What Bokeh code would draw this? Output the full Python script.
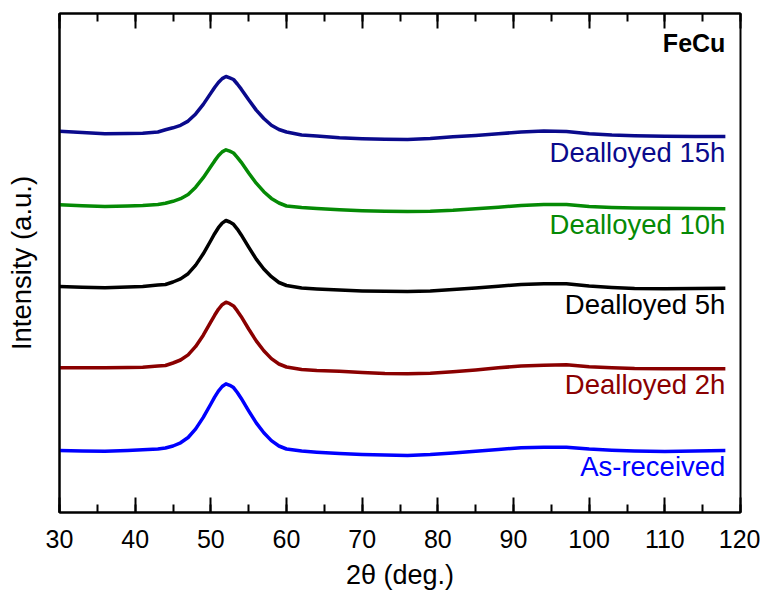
from bokeh.plotting import figure
from bokeh.models import Range1d, LinearAxis, SingleIntervalTicker, FixedTicker, Label, CustomJSTickFormatter
from bokeh.core.properties import value
from bokeh.embed import file_html
from bokeh.resources import INLINE

# 2-theta positions (deg.)
two_theta = [30, 33, 36, 39, 41, 43, 44, 45, 46, 47, 48, 49, 50, 50.5, 51, 51.5, 52, 52.5,
             53, 53.5, 54, 55, 56, 57, 58, 59, 60, 62, 64, 67, 70, 73, 76, 79, 82, 85,
             88, 91, 94, 97, 100, 103, 106, 110, 114, 118]

# Intensities (a.u., already stacked with vertical offsets)
dealloyed_15h = [381.3, 380, 378.7, 379, 379.3, 380.5, 382.7, 384.7, 387.2, 391.4, 398.6, 408.1,
                 419.4, 425.0, 430.0, 433.9, 436.0, 434.6, 433.0, 428.5, 423.6, 412.7, 402.4,
                 394.0, 387.2, 383.0, 380.5, 377.5, 376.5, 374.7, 373.8, 373.3, 373.0, 374.0,
                 375.8, 377.0, 378.7, 380.5, 381.5, 381.0, 378.8, 377.5, 376.8, 376.2, 376.0, 376.0]
dealloyed_10h = [307.7, 306.8, 306, 306.5, 307, 308, 309.2, 311.2, 313.8, 318.0, 325.3, 334.8,
                 346.0, 351.6, 356.7, 360.6, 362.7, 361.3, 359.5, 355.2, 350.4, 339.5, 329.3,
                 320.8, 314.1, 309.5, 306.5, 305.0, 304.0, 302.7, 301.7, 301.2, 301.0, 301.3,
                 302.2, 303.8, 305.3, 307.0, 308.0, 308.0, 306.0, 305.0, 304.5, 304.2, 304.0, 303.7]
dealloyed_5h = [226, 225.3, 224.7, 225.5, 226, 227.5, 228.0, 230.5, 233.6, 238.8, 247.4, 258.7,
                272.0, 278.8, 284.8, 289.4, 292.0, 290.5, 288.2, 283.4, 277.8, 265.3, 253.4,
                243.5, 235.8, 230.0, 227.0, 224.5, 223.5, 222.5, 221.6, 221.2, 221.0, 221.5,
                223.0, 224.5, 226.3, 228.0, 228.7, 228.7, 226.5, 225.0, 224.0, 223.8, 224.0, 224.3]
dealloyed_2h = [144.7, 144.7, 144.7, 145, 145.3, 146.5, 147.0, 149.5, 152.5, 157.6, 166.1, 177.3,
                190.6, 197.2, 203.2, 207.8, 210.3, 208.8, 206.6, 201.6, 196.1, 183.5, 171.6,
                161.7, 153.9, 148.5, 145.5, 143.0, 142.0, 141.3, 140.0, 139.0, 138.7, 139.2,
                140.8, 142.5, 144.7, 146.5, 147.3, 147.7, 145.8, 144.8, 144.0, 143.7, 143.7, 143.7]
as_received = [62, 61.6, 61.3, 62, 62.7, 63.5, 64.5, 66.5, 69.7, 75.0, 83.6, 95.1,
               108.5, 115.3, 121.4, 126.0, 128.7, 127.2, 124.9, 120.0, 114.3, 101.7, 89.6,
               79.7, 71.9, 66.5, 63.5, 61.5, 60.3, 59.0, 58.0, 57.5, 57.0, 58.0,
               59.6, 61.3, 63.0, 64.8, 65.3, 65.3, 63.5, 62.3, 61.5, 61.0, 61.5, 62.0]

series_names = ["Dealloyed 15h", "Dealloyed 10h", "Dealloyed 5h", "Dealloyed 2h", "As-received"]
series_values = [dealloyed_15h, dealloyed_10h, dealloyed_5h, dealloyed_2h, as_received]
series_colors = ["#0a0a8c", "#058a05", "#000000", "#8a0000", "#0000ff"]

FONT = "Liberation Sans"

p = figure(frame_width=681, frame_height=499, output_backend="svg", toolbar_location=None,
           x_range=Range1d(30, 120), y_range=Range1d(0, 499),
           x_axis_type=None, y_axis_type=None,
           min_border_left=59, min_border_right=20, min_border_top=13, min_border_bottom=76)
p.grid.visible = False
p.outline_line_color = "black"
p.outline_line_width = 2
p.background_fill_color = "white"
p.border_fill_color = "white"

tick_kw = dict(major_tick_in=15, major_tick_out=0, minor_tick_in=8, minor_tick_out=0,
               axis_line_width=2, major_tick_line_width=2, minor_tick_line_width=2,
               axis_line_color="black", major_tick_line_color="black", minor_tick_line_color="black")

xaxis = LinearAxis(ticker=SingleIntervalTicker(interval=10, num_minor_ticks=2),
                   axis_label="2θ (deg.)",
                   major_label_text_font=FONT, major_label_text_font_size="25px",
                   major_label_text_color="black", major_label_standoff=17,
                   axis_label_text_font=FONT, axis_label_text_font_size="27px",
                   axis_label_text_font_style="normal", axis_label_text_color="black",
                   axis_label_standoff=9, **tick_kw)
p.add_layout(xaxis, "below")

topaxis = LinearAxis(ticker=SingleIntervalTicker(interval=10, num_minor_ticks=2),
                     formatter=CustomJSTickFormatter(code="return ''"),
                     major_label_standoff=0, **tick_kw)
p.add_layout(topaxis, "above")

yaxis = LinearAxis(ticker=FixedTicker(ticks=[]), axis_label="Intensity (a.u.)",
                   axis_label_text_font=FONT, axis_label_text_font_size="27.5px",
                   axis_label_text_font_style="normal", axis_label_text_color="black",
                   axis_label_standoff=23, axis_line_width=2, axis_line_color="black",
                   major_tick_line_color=None, minor_tick_line_color=None)
p.add_layout(yaxis, "left")

for name, vals, col in zip(series_names, series_values, series_colors):
    p.line(two_theta, vals, line_color=col, line_width=3.5, line_join="round")
    p.text(x=[two_theta[-1]], y=[vals[-1] - 16], text=[name], text_color=col,
           text_align="right", text_baseline="middle",
           text_font=value(FONT), text_font_size="27.5px")

p.add_layout(Label(x=118, y=470, text="FeCu", text_align="right", text_baseline="middle",
                   text_font=FONT, text_font_size="25px", text_font_style="bold",
                   text_color="black"))

open("out.html", "w").write(file_html(p, INLINE))
